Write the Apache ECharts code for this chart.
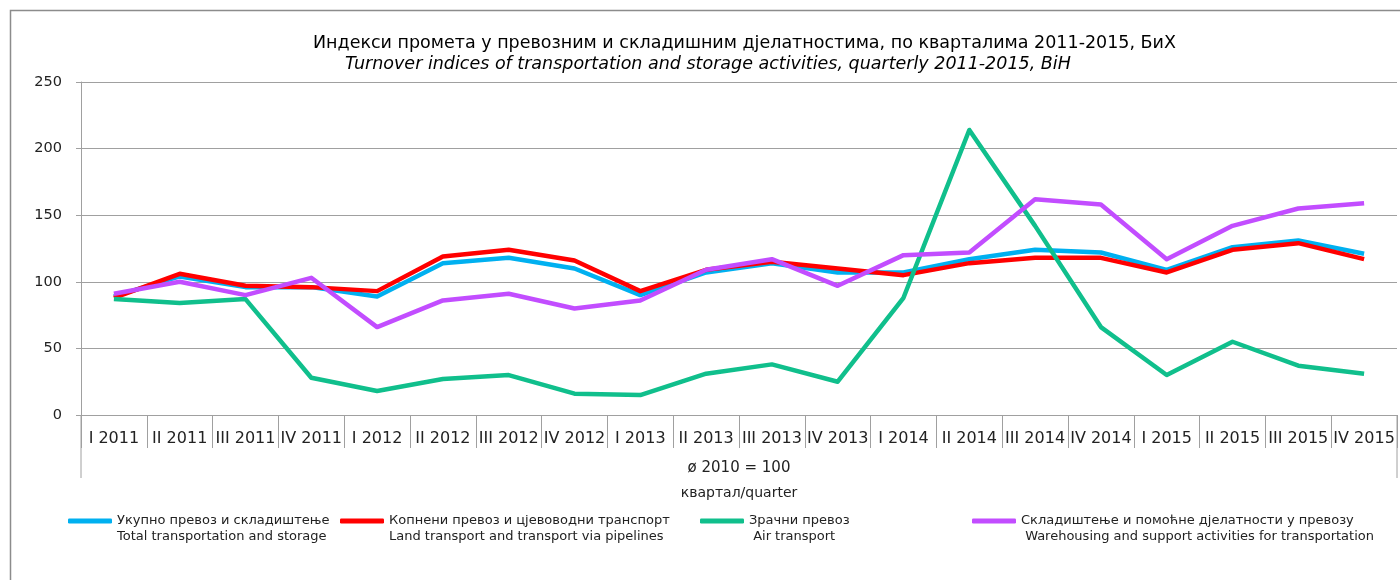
<!DOCTYPE html>
<html>
<head>
<meta charset="utf-8">
<script src="https://cdn.jsdelivr.net/npm/echarts@6/dist/echarts.min.js"></script>
<style>
  html, body { margin: 0; padding: 0; background: #fff; }
  #chart { width: 1400px; height: 580px; }
</style>
</head>
<body>
<div id="chart"></div>
<script>
const categories = ['I 2011', 'II 2011', 'III 2011', 'IV 2011', 'I 2012', 'II 2012', 'III 2012', 'IV 2012',
  'I 2013', 'II 2013', 'III 2013', 'IV 2013', 'I 2014', 'II 2014', 'III 2014', 'IV 2014',
  'I 2015', 'II 2015', 'III 2015', 'IV 2015']
const totalValues = [89, 104, 96, 96, 89, 114, 118, 110, 90, 107, 114, 107, 107, 117, 124, 122, 109, 126, 131, 121]
const landValues = [88, 106, 97, 96, 93, 119, 124, 116, 93, 109, 115, 110, 105, 114, 118, 118, 107, 124, 129, 117]
const airValues = [87, 84, 87, 28, 18, 27, 30, 16, 15, 31, 38, 25, 88, 214, 142, 66, 30, 55, 37, 31]
const warehouseValues = [91, 100, 90, 103, 66, 86, 91, 80, 86, 109, 117, 97, 120, 122, 162, 158, 117, 142, 155, 159]
const yTicks = [0, 50, 100, 150, 200, 250]

const seriesNames = [
  'Укупно превоз и складиштење\nTotal transportation and storage',
  'Копнени превоз и цјевоводни транспорт\nLand transport and transport via pipelines',
  'Зрачни превоз\n Air transport',
  'Складиштење и помоћне дјелатности у превозу\n Warehousing and support activities for transportation'
]
const seriesColors = ['#00B0F0', '#FF0000', '#10BF8C', '#C24DFF']
const seriesData = [totalValues, landValues, airValues, warehouseValues]
const legendLeft = [68, 340, 700, 972]

const font = '"DejaVu Sans", sans-serif'
const axisGray = '#A0A0A0'
const gridLeft = 81, gridRight = 3, gridTop = 82, gridBottom = 165
const W = 1400, H = 580

const chart = echarts.init(document.getElementById('chart'))

const option = {
  backgroundColor: '#fff',
  animation: false,
  textStyle: { fontFamily: font },
  title: [
    {
      text: 'Индекси промета у превозним и складишним дјелатностима, по кварталима 2011-2015, БиХ',
      left: 308, top: 29,
      textStyle: { fontSize: 17.5, fontWeight: 'normal', color: '#000', fontFamily: font }
    },
    {
      text: 'Turnover indices of transportation and storage activities, quarterly 2011-2015, BiH',
      left: 340, top: 50,
      textStyle: { fontSize: 17.5, fontWeight: 'normal', fontStyle: 'italic', color: '#000', fontFamily: font }
    }
  ],
  // one legend per series so each block sits where the reference puts it
  legend: seriesNames.map((name, i) => ({
    data: [name],
    left: legendLeft[i],
    top: 497,
    padding: 0,
    itemWidth: 44,
    itemHeight: 5,
    itemGap: 0,
    icon: 'roundRect',
    formatter: n => '\n' + n,
    textStyle: { fontSize: 13, lineHeight: 16, color: '#222', fontFamily: font }
  })),
  grid: { left: gridLeft, right: gridRight, top: gridTop, bottom: gridBottom, containLabel: false },
  xAxis: {
    type: 'category',
    data: categories,
    boundaryGap: true,
    axisLine: { lineStyle: { color: axisGray, width: 1 } },
    axisTick: { show: true, interval: 0, length: 33, lineStyle: { color: axisGray } },
    axisLabel: { interval: 0, margin: 16, fontSize: 16, color: '#222', fontFamily: font },
    name: '{a|ø 2010 = 100}\n{b|квартал/quarter}',
    nameLocation: 'middle',
    nameGap: 41,
    nameTextStyle: {
      color: '#222',
      fontFamily: font,
      rich: {
        a: { fontSize: 15, lineHeight: 25, color: '#222', fontFamily: font },
        b: { fontSize: 14, lineHeight: 25, color: '#222', fontFamily: font }
      }
    }
  },
  yAxis: {
    type: 'value',
    min: yTicks[0],
    max: yTicks[yTicks.length - 1],
    interval: 50,
    axisLine: { show: true, lineStyle: { color: axisGray } },
    axisTick: { show: true, length: 5, lineStyle: { color: axisGray } },
    axisLabel: { fontSize: 14.5, color: '#222', margin: 19, fontFamily: font },
    splitLine: { lineStyle: { color: axisGray, width: 1 } }
  },
  series: seriesNames.map((name, i) => ({
    name: name,
    type: 'line',
    data: seriesData[i],
    color: seriesColors[i],
    symbol: 'none',
    lineStyle: { width: 4.5, color: seriesColors[i], join: 'round' }
  })),
  graphic: [
    {
      type: 'rect',
      shape: { x: 10.5, y: 10.5, width: W + 20, height: H + 20 },
      style: { fill: 'none', stroke: '#8C8C8C', lineWidth: 1.5 },
      silent: true
    },
    {
      type: 'line',
      shape: { x1: gridLeft, y1: H - gridBottom, x2: gridLeft, y2: H - gridBottom + 63 },
      style: { stroke: axisGray, lineWidth: 1 },
      silent: true
    },
    {
      type: 'line',
      shape: { x1: W - gridRight, y1: H - gridBottom, x2: W - gridRight, y2: H - gridBottom + 63 },
      style: { stroke: axisGray, lineWidth: 1 },
      silent: true
    }
  ]
}

chart.setOption(option)
</script>
</body>
</html>
